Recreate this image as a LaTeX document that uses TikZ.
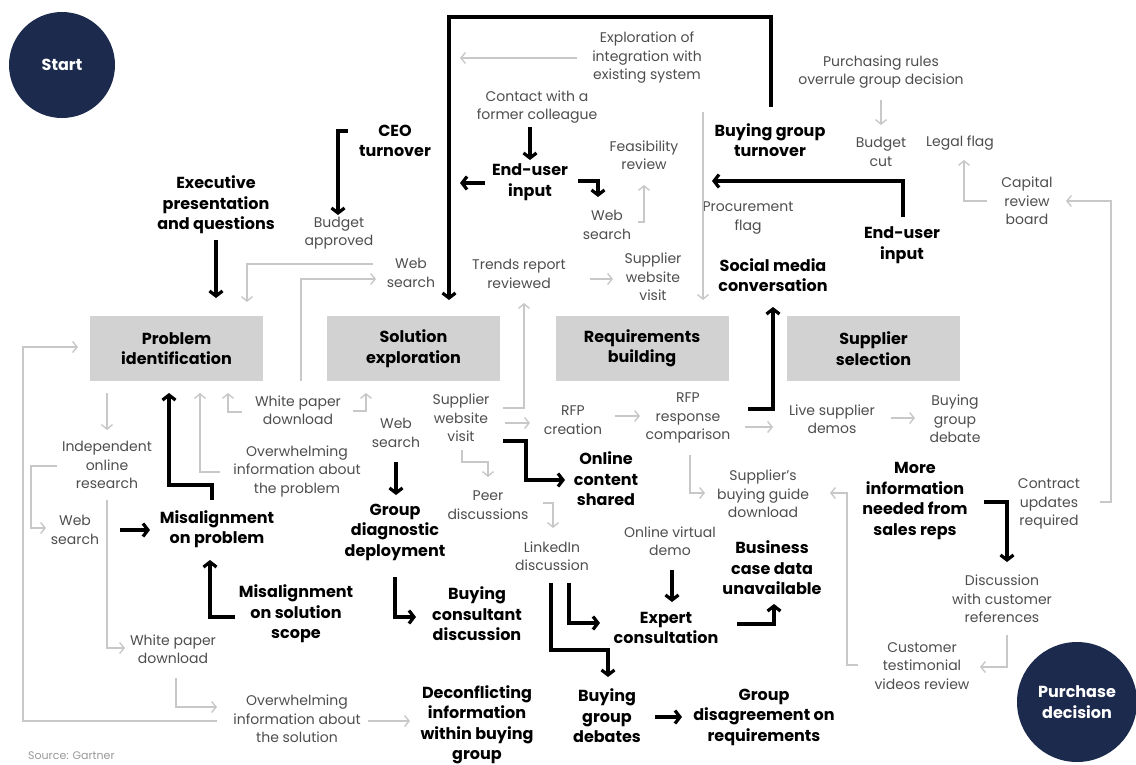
\documentclass[tikz,border=0pt]{standalone}
\usepackage{fontspec}
\setmainfont{Poppins}
\usetikzlibrary{arrows.meta}

\definecolor{navy}{RGB}{28,43,77}
\definecolor{boxgray}{RGB}{210,210,210}
\definecolor{txtgray}{RGB}{78,78,78}
\definecolor{linegray}{RGB}{200,200,200}

\tikzset{
  lt/.style={align=center, inner sep=0pt, text=txtgray, font=\fontsize{14}{18.5}\selectfont},
  bt/.style={align=center, inner sep=0pt, text=black, font=\bfseries\fontsize{16}{20.5}\selectfont},
  stage/.style={fill=boxgray, minimum width=173pt, minimum height=65pt, inner sep=0pt, align=center, font=\bfseries\fontsize{16}{20.5}\selectfont},
  dot/.style={circle, fill=navy, text=white, inner sep=0pt, align=center, font=\bfseries\fontsize{16}{20.5}\selectfont},
  bd/.style={draw=black, line width=3.2pt, -{Straight Barb[length=5pt,width=13pt]}},
  lc/.style={draw=linegray, line width=1.4pt, -{Straight Barb[length=4.5pt,width=11pt]}}
}

\begin{document}
\begin{tikzpicture}[x=1pt, y=-1pt]
  \fill[white] (0,0) rectangle (1136,764);
  \useasboundingbox (0,0) rectangle (1136,764);

  \node[dot, minimum size=106pt] (start) at (62,65) {Start};
  \node[dot, minimum size=120pt] (purch) at (1077,702) {Purchase\\decision};

  \node[stage] (prob) at (176.5,348.5) {Problem\\identification};
  \node[stage] (sol)  at (413.5,348.5) {Solution\\exploration};
  \node[stage] (req)  at (642,348.5) {Requirements\\building};
  \node[stage] (sup)  at (873.5,348.5) {Supplier\\selection};

  \coordinate (loopTL) at (449,17);

  % top
  \node[lt] (explo)   at (647,58)  {Exploration of\\integration with\\existing system};
  \node[lt] (contact) at (537,107) {Contact with a\\former colleague};
  \node[bt] (ceo)     at (395,141) {CEO\\turnover};
  \node[bt] (exec)    at (216,205) {Executive\\presentation\\and questions};
  \node[lt] (budapp)  at (339,233) {Budget\\approved};
  \node[bt] (eui)     at (530,182) {End-user\\input};
  \node[lt] (feas)    at (644,155) {Feasibility\\review};
  \node[lt] (webA)    at (607,225) {Web\\search};
  \node[bt] (bgt)     at (770,140) {Buying group\\turnover};
  \node[lt] (rules)   at (881,72)  {Purchasing rules\\overrule group decision};
  \node[lt] (budcut)  at (881,152) {Budget\\cut};
  \node[lt] (legal)   at (960,143) {Legal flag};
  \node[lt] (capital) at (1027,201) {Capital\\review\\board};
  \node[lt] (procure) at (748,218) {Procurement\\flag};
  \node[bt] (euiB)    at (902,245) {End-user\\input};
  \node[bt] (social)  at (773,275) {Social media\\conversation};
  \node[lt] (webB)    at (411,273) {Web\\search};
  \node[lt] (trends)  at (519,274) {Trends report\\reviewed};
  \node[lt] (suppA)   at (653,277) {Supplier\\website\\visit};

  % middle
  \node[lt] (indep)    at (107,465) {Independent\\online\\research};
  \node[lt] (wpA)      at (298,410) {White paper\\download};
  \node[lt] (overA)    at (297,471) {Overwhelming\\information about\\the problem};
  \node[lt] (webC)     at (396,433) {Web\\search};
  \node[lt] (suppB)    at (461,418) {Supplier\\website\\visit};
  \node[lt] (rfpc)     at (573,420) {RFP\\creation};
  \node[lt] (rfpr)     at (688,418) {RFP\\response\\comparison};
  \node[lt] (live)     at (832,419) {Live supplier\\demos};
  \node[lt] (bgd)      at (955,419) {Buying\\group\\debate};
  \node[bt] (online)   at (606,479) {Online\\content\\shared};
  \node[lt] (peer)     at (488,505) {Peer\\discussions};
  \node[lt] (guide)    at (763,494) {Supplier’s\\buying guide\\download};
  \node[bt] (more)     at (915,501) {More\\information\\needed from\\sales reps};
  \node[lt] (contract) at (1049,504) {Contract\\updates\\required};

  % bottom
  \node[lt] (webD)     at (75,530)  {Web\\search};
  \node[bt] (misprob)  at (217,529) {Misalignment\\on problem};
  \node[bt] (group)    at (395,532) {Group\\diagnostic\\deployment};
  \node[lt] (linked)   at (552,556) {LinkedIn\\discussion};
  \node[lt] (virtual)  at (670,541) {Online virtual\\demo};
  \node[bt] (bcase)    at (772,568) {Business\\case data\\unavailable};
  \node[bt] (missol)   at (296,614) {Misalignment\\on solution\\scope};
  \node[bt] (consult)  at (477,614) {Buying\\consultant\\discussion};
  \node[bt] (expert)   at (666,628) {Expert\\consultation};
  \node[lt] (discuss)  at (1002,599) {Discussion\\with customer\\references};
  \node[lt] (wpB)      at (173,649) {White paper\\download};
  \node[lt] (testi)    at (922,666) {Customer\\testimonial\\videos review};
  \node[lt] (overB)    at (297,719) {Overwhelming\\information about\\the solution};
  \node[bt] (decon)    at (477,725) {Deconflicting\\information\\within buying\\group};
  \node[bt] (debates)  at (607,716) {Buying\\group\\debates};
  \node[bt] (disagree) at (764,717) {Group\\disagreement on\\requirements};

  \node[anchor=west, inner sep=0pt, text=black!40, font=\fontsize{11}{12}\selectfont] (src) at (28,756) {Source: Gartner};

  % black paths
  \draw[bd] ([shift={(1,-33)}]bgt.center) |- (loopTL) -- ([shift={(35.5,-48.5)}]sol.center);
  \draw[bd] ([shift={(-47,-10)}]ceo.center) -| ([shift={(-1,-18)}]budapp.center);
  \draw[bd] ([shift={(0,35)}]exec.center) -- ([shift={(39.5,-50.5)}]prob.center);
  \draw[bd] ([shift={(-7,20)}]contact.center) -- ([shift={(0,-22)}]eui.center);
  \draw[bd] ([shift={(-45,1)}]eui.center) -- ([shift={(-70,1)}]eui.center);
  \draw[bd] ([shift={(48,-1)}]eui.center) -| ([shift={(-9,-28)}]webA.center);
  \draw[bd] ([shift={(1,-28)}]euiB.center) |- ([shift={(-58,41)}]bgt.center);
  \draw[bd] ([shift={(60,-9)}]rfpr.center) -| ([shift={(0,32)}]social.center);
  \draw[bd] ([shift={(42,23)}]suppB.center) -- ++(23,0) |- ([shift={(-41,1)}]online.center);
  \draw[bd] ([shift={(0,29)}]webC.center) -- ([shift={(1,-37)}]group.center);
  \draw[bd] ([shift={(-5,-29)}]misprob.center) -- ++(0,-15) -| ([shift={(-7.5,44.5)}]prob.center);
  \draw[bd] ([shift={(45,0)}]webD.center) -- ([shift={(-67,1)}]misprob.center);
  \draw[bd] ([shift={(-61,3)}]missol.center) -| ([shift={(-7,31)}]misprob.center);
  \draw[bd] ([shift={(0,45)}]group.center) |- ([shift={(-61,3)}]consult.center);
  \draw[bd] ([shift={(17,27)}]linked.center) |- ([shift={(-66,-5)}]expert.center);
  \draw[bd] ([shift={(-1,27)}]linked.center) |- ([shift={(1,-66)}]debates.center) -- ([shift={(1,-39)}]debates.center);
  \draw[bd] ([shift={(2,29)}]virtual.center) -- ([shift={(6,-26)}]expert.center);
  \draw[bd] ([shift={(71,-4)}]expert.center) -| ([shift={(2,36)}]bcase.center);
  \draw[bd] ([shift={(48,1)}]debates.center) -- ([shift={(-82,0)}]disagree.center);
  \draw[bd] ([shift={(69,1)}]more.center) -| ([shift={(5,-37)}]discuss.center);

  % gray paths
  \draw[lc] ([shift={(-70,0)}]explo.center) -- ([shift={(-187,0)}]explo.center);
  \draw[lc] ([shift={(-38,-9)}]webB.center) -| ([shift={(70.5,-46.5)}]prob.center);
  \draw[lc] ([shift={(3,-29)}]wpA.center) |- ([shift={(-35,6)}]webB.center);
  \draw[lc] ([shift={(71,5)}]trends.center) -- ([shift={(-40,2)}]suppA.center);
  \draw[lc] ([shift={(42,-10)}]suppB.center) -| ([shift={(5,29)}]trends.center);
  \draw[lc] ([shift={(31,-3)}]webA.center) -| ([shift={(0,30)}]feas.center);
  \draw[lc] ([shift={(-67,-28)}]bgt.center) -- ([shift={(61,-48.5)}]req.center);
  \draw[lc] ([shift={(0,28)}]rules.center) -- ([shift={(0,-27)}]budcut.center);
  \draw[lc] ([shift={(-40,0)}]capital.center) -| ([shift={(4,17)}]legal.center);
  \draw[lc] ([shift={(51,-2)}]contract.center) -- ++(11,0) |- ([shift={(39,0)}]capital.center);
  \draw[lc] ([shift={(-69.5,44.5)}]prob.center) -- ([shift={(0,-35)}]indep.center);
  \draw[lc] ([shift={(-77,1)}]overA.center) -| ([shift={(23.5,44.5)}]prob.center);
  \draw[lc] ([shift={(-56,2)}]wpA.center) -| ([shift={(51.5,44.5)}]prob.center);
  \draw[lc] ([shift={(55,1)}]wpA.center) -| ([shift={(-47.5,44.5)}]sol.center);
  \draw[lc] ([shift={(-50,1)}]indep.center) -- ++(-26,0) |- ([shift={(-29,-2)}]webD.center);
  \draw[lc] ([shift={(0,35)}]indep.center) |- ([shift={(-48,-1)}]wpB.center);
  \draw[lc] ([shift={(3,29)}]wpB.center) |- ([shift={(-80,-12)}]overB.center);
  \draw[lc] ([shift={(-80,2)}]overB.center) -- ++(-194,0) |- ([shift={(-98.5,-1.5)}]prob.center);
  \draw[lc] ([shift={(71,2)}]overB.center) -- ([shift={(-67,-4)}]decon.center);
  \draw[lc] ([shift={(44,5)}]suppB.center) -- ([shift={(-43,3)}]rfpc.center);
  \draw[lc] ([shift={(42,-4)}]rfpc.center) -- ([shift={(-48,-2)}]rfpr.center);
  \draw[lc] ([shift={(57,9)}]rfpr.center) -- ([shift={(-59,8)}]live.center);
  \draw[lc] ([shift={(59,-1)}]live.center) -- ([shift={(-40,-1)}]bgd.center);
  \draw[lc] ([shift={(1,32)}]suppB.center) -- ++(0,12) -| ([shift={(0,-28)}]peer.center);
  \draw[lc] ([shift={(55,-2)}]peer.center) -| ([shift={(1,-28)}]linked.center);
  \draw[lc] ([shift={(2,37)}]rfpr.center) |- ([shift={(-58,-1)}]guide.center);
  \draw[lc] ([shift={(-64,-1)}]testi.center) -- ++(-11,0) |- ([shift={(67,-1)}]guide.center);
  \draw[lc] ([shift={(5,36)}]discuss.center) |- ([shift={(58,1)}]testi.center);
  %\draw[lc] (bgt) -- (req);
\end{tikzpicture}
\end{document}
